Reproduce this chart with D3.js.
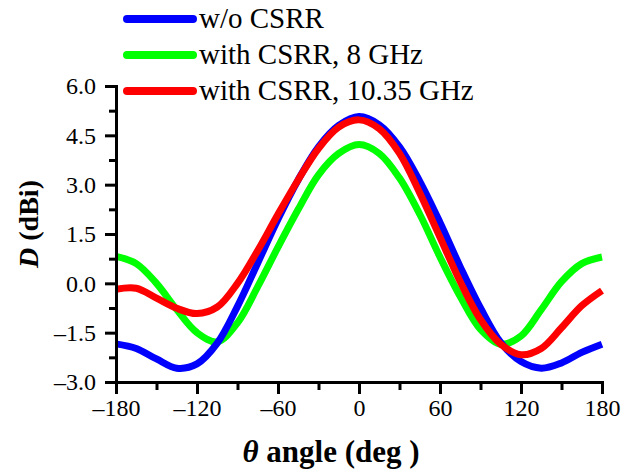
<!DOCTYPE html>
<html>
<head>
<meta charset="utf-8">
<script src="https://cdn.jsdelivr.net/npm/d3@7"></script>
<style>
  body { margin: 0; background: #fff; }
</style>
</head>
<body>
<svg id="svg" width="643" height="472"></svg>
<script>
const angles = [-180, -165, -150, -135, -120, -105, -90, -75, -60, -45, -30, -15, 0,
  15, 30, 45, 60, 75, 90, 105, 120, 135, 150, 165, 180]

const woCsrr = [-1.84, -1.98, -2.3, -2.58, -2.45, -1.82, -0.7, 0.62, 1.95, 3.15, 4.15, 4.8, 5.07,
  4.82, 4.15, 3.1, 1.85, 0.5, -0.75, -1.8, -2.38, -2.58, -2.42, -2.1, -1.85]

const csrr8 = [0.82, 0.6, 0.0, -0.8, -1.5, -1.78, -1.2, -0.1, 1.1, 2.25, 3.3, 3.95, 4.22,
  3.95, 3.2, 2.1, 0.8, -0.4, -1.4, -1.85, -1.6, -0.8, 0.05, 0.6, 0.8]

const csrr1035 = [-0.18, -0.15, -0.45, -0.76, -0.92, -0.72, 0.0, 1.0, 2.1, 3.15, 4.1, 4.75, 4.97,
  4.7, 3.95, 2.75, 1.4, 0.05, -1.1, -1.85, -2.17, -1.98, -1.35, -0.68, -0.22]

const seriesNames = ['w/o CSRR', 'with CSRR, 8 GHz', 'with CSRR, 10.35 GHz']
const seriesColors = ['#0000ff', '#00ff00', '#ff0000']
const xTicks = [-180, -120, -60, 0, 60, 120, 180]
const yTicks = [-3.0, -1.5, 0.0, 1.5, 3.0, 4.5, 6.0]

const plotLeft = 116
const plotRight = 602
const plotTop = 86
const plotBottom = 382
const serif = 'Liberation Serif'

const svg = d3.select('#svg')

const xScale = d3.scaleLinear().domain([-180, 180]).range([plotLeft, plotRight])
const yScale = d3.scaleLinear().domain([-3, 6]).range([plotBottom, plotTop])

const lineGen = d3.line()
  .x((d, i) => xScale(angles[i]))
  .y(d => yScale(d))
  .curve(d3.curveCatmullRom)

// order drawn: green, blue, red on top
const drawOrder = [1, 0, 2]
const allSeries = [woCsrr, csrr8, csrr1035]
drawOrder.forEach(k => {
  svg.append('path')
    .attr('d', lineGen(allSeries[k]))
    .attr('fill', 'none')
    .attr('stroke', seriesColors[k])
    .attr('stroke-width', 7)
})

// axes
const fmtX = d => (d < 0 ? '\u2013' + Math.abs(d) : String(d))
const xAxis = d3.axisBottom(xScale).tickValues(xTicks).tickFormat(fmtX).tickSize(12).tickPadding(5)
const xMinor = d3.axisBottom(xScale).tickValues(d3.range(-150, 180, 60)).tickFormat('').tickSize(8)
const yAxis = d3.axisLeft(yScale).tickValues(yTicks)
  .tickFormat(d => (d < 0 ? '\u2013' : '') + Math.abs(d).toFixed(1)).tickSize(11).tickPadding(9)
const yMinor = d3.axisLeft(yScale).tickValues(d3.range(-2.25, 6, 1.5)).tickFormat('').tickSize(7)

const styleAxis = g => {
  g.attr('font-family', serif).attr('font-size', 24)
  g.select('.domain').attr('stroke', '#000').attr('stroke-width', 3)
  g.selectAll('.tick line').attr('stroke', '#000').attr('stroke-width', 3)
  g.selectAll('.tick text').attr('fill', '#000')
}

svg.append('g').attr('transform', `translate(0, ${plotBottom})`).call(xMinor).call(styleAxis)
svg.append('g').attr('transform', `translate(0, ${plotBottom})`).call(xAxis).call(styleAxis)
svg.append('g').attr('transform', `translate(${plotLeft}, 0)`).call(yMinor).call(styleAxis)
svg.append('g').attr('transform', `translate(${plotLeft}, 0)`).call(yAxis).call(styleAxis)

// axis titles
const xTitle = svg.append('text')
  .attr('x', 331).attr('y', 462)
  .attr('text-anchor', 'middle')
  .attr('font-family', serif)
  .attr('font-size', 31).attr('font-weight', 'bold')
xTitle.append('tspan').attr('font-style', 'italic').text('\u03b8')
xTitle.append('tspan').text(' angle (deg )')

const yTitle = svg.append('text')
  .attr('transform', 'translate(38, 224) rotate(-90)')
  .attr('text-anchor', 'middle')
  .attr('font-family', serif)
  .attr('font-size', 28).attr('font-weight', 'bold')
yTitle.append('tspan').attr('font-style', 'italic').text('D')
yTitle.append('tspan').text(' (dBi)')

// legend
const legendY = [19, 55, 91]
seriesNames.forEach((name, i) => {
  svg.append('line')
    .attr('x1', 127).attr('x2', 193)
    .attr('y1', legendY[i]).attr('y2', legendY[i])
    .attr('stroke', seriesColors[i])
    .attr('stroke-width', 8)
    .attr('stroke-linecap', 'round')
  svg.append('text')
    .attr('x', 199).attr('y', legendY[i] + 9)
    .attr('font-family', serif)
    .attr('font-size', 29)
    .text(name)
})
</script>
</body>
</html>
